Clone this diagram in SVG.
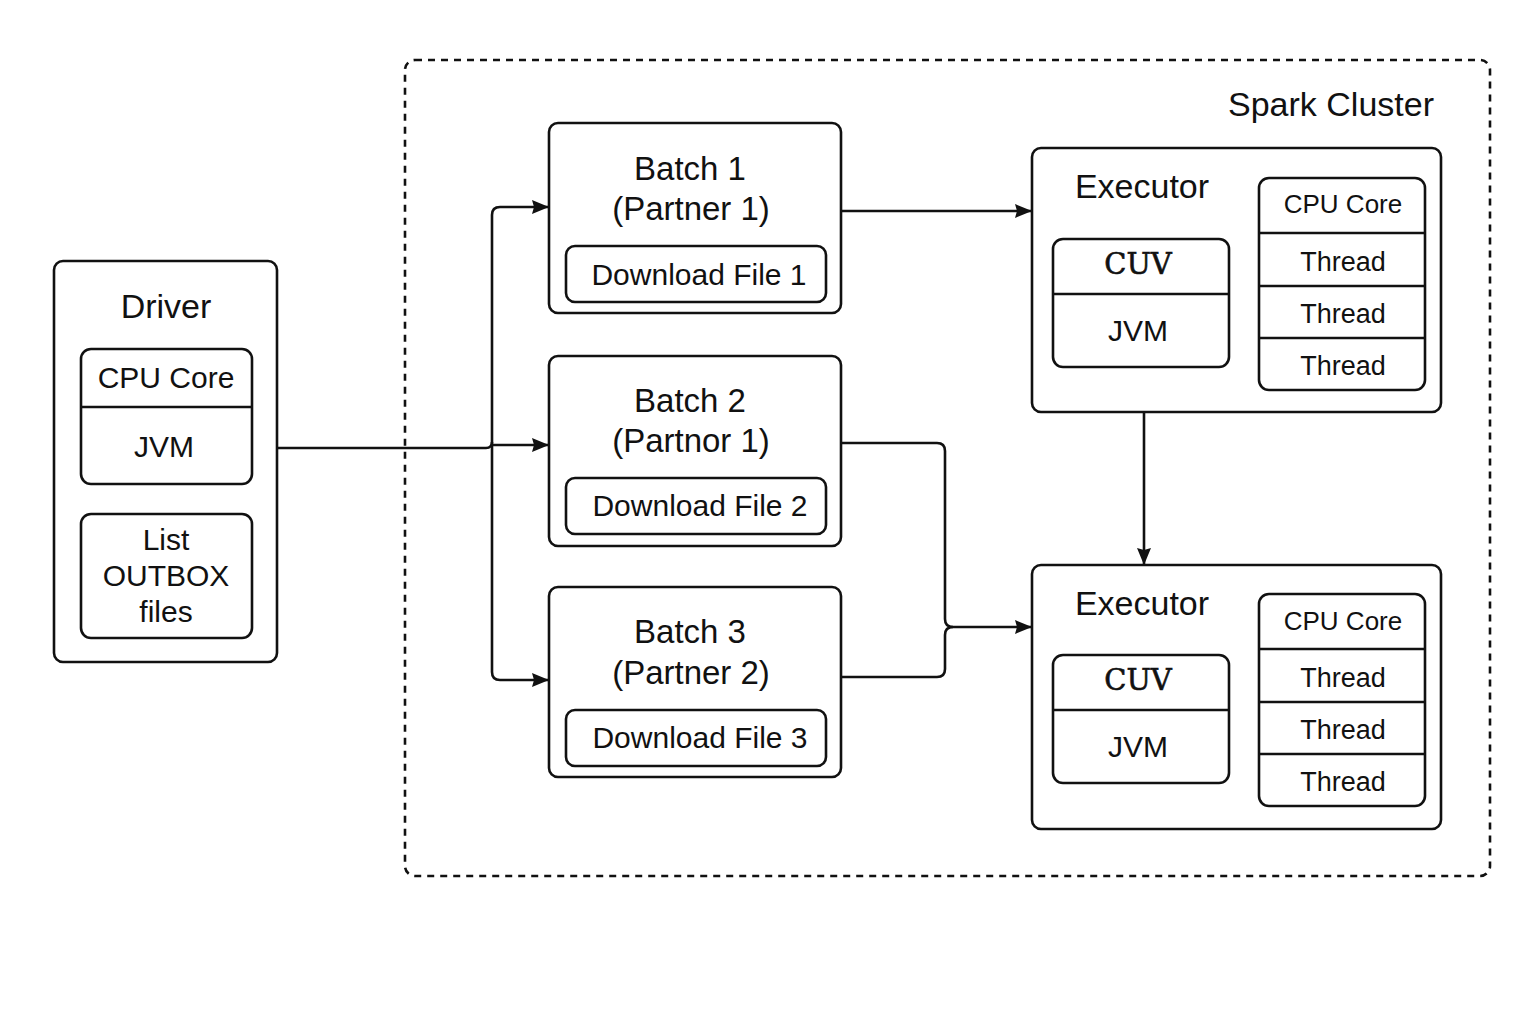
<svg xmlns="http://www.w3.org/2000/svg" width="1536" height="1024" viewBox="0 0 1536 1024">
<style>
.b{fill:#fff;stroke:#111;stroke-width:2.6}
.l{fill:none;stroke:#111;stroke-width:2.6}
.c{fill:none;stroke:#111;stroke-width:2.6;stroke-linejoin:round}
text{font-family:"Liberation Sans",Arial,sans-serif;fill:#111;text-anchor:middle}
.t34{font-size:34px}.t33{font-size:33px}.t30{font-size:30px}.t27{font-size:27px}.t26{font-size:26px}
.cuv{font-family:"DejaVu Serif",serif;font-size:29px;stroke:#111;stroke-width:0.6}
</style>
<defs>
<marker id="a" viewBox="0 0 17 14" refX="16" refY="7" markerWidth="17" markerHeight="14" markerUnits="userSpaceOnUse" orient="auto">
<path d="M0,0 L17,7 L0,14 L2,7 z" fill="#111"/>
</marker>
</defs>
<rect width="1536" height="1024" fill="#fff"/>
<g id="cluster">
<rect x="405" y="60" width="1085" height="816" rx="10" fill="none" stroke="#111" stroke-width="2.6" stroke-dasharray="7,6"/>
<text x="1434" y="116" class="t34" style="text-anchor:end">Spark Cluster</text>
</g>
<g id="connectors">
<path class="c" d="M277,448 H486 Q492,448 492,442"/>
<path class="c" d="M492,672 V215 Q492,207 500,207 H548" marker-end="url(#a)"/>
<path class="c" d="M492,672 Q492,680 500,680 H548" marker-end="url(#a)"/>
<path class="c" d="M492,445 H548" marker-end="url(#a)"/>
<path class="c" d="M841,211 H1031" marker-end="url(#a)"/>
<path class="c" d="M841,443 H937 Q945,443 945,451 V619 Q945,627 953,627 H1031" marker-end="url(#a)"/>
<path class="c" d="M841,677 H937 Q945,677 945,669 V635 Q945,627 953,627"/>
<path class="c" d="M1144,412 V564" marker-end="url(#a)"/>
</g>
<g id="driver">
<rect class="b" x="54" y="261" width="223" height="401" rx="9"/>
<text x="166" y="318" class="t34">Driver</text>
<rect class="b" x="81" y="349" width="171" height="135" rx="10"/>
<line class="l" x1="81" y1="407" x2="252" y2="407"/>
<text x="166" y="388" class="t30">CPU Core</text>
<text x="164" y="457" class="t30">JVM</text>
<rect class="b" x="81" y="514" width="171" height="124" rx="10"/>
<text x="166" y="550" class="t30">List</text>
<text x="166" y="586" class="t30">OUTBOX</text>
<text x="166" y="622" class="t30">files</text>
</g>
<g id="batch1">
<rect class="b" x="549" y="123" width="292" height="190" rx="9"/>
<text x="690" y="180" class="t33">Batch 1</text>
<text x="691" y="220" class="t33">(Partner 1)</text>
<rect class="b" x="566" y="246" width="260" height="56" rx="9"/>
<text x="699" y="285" class="t30">Download File 1</text>
</g>
<g id="batch2">
<rect class="b" x="549" y="356" width="292" height="190" rx="9"/>
<text x="690" y="412" class="t33">Batch 2</text>
<text x="691" y="452" class="t33">(Partnor 1)</text>
<rect class="b" x="566" y="478" width="260" height="56" rx="9"/>
<text x="700" y="516" class="t30">Download File 2</text>
</g>
<g id="batch3">
<rect class="b" x="549" y="587" width="292" height="190" rx="9"/>
<text x="690" y="643" class="t33">Batch 3</text>
<text x="691" y="684" class="t33">(Partner 2)</text>
<rect class="b" x="566" y="710" width="260" height="56" rx="9"/>
<text x="700" y="748" class="t30">Download File 3</text>
</g>
<g id="executor1">
<rect class="b" x="1032" y="148" width="409" height="264" rx="9"/>
<text x="1142" y="198" class="t34">Executor</text>
<rect class="b" x="1053" y="239" width="176" height="128" rx="10"/>
<line class="l" x1="1053" y1="294" x2="1229" y2="294"/>
<text x="1138" y="274" class="cuv">CUV</text>
<text x="1138" y="341" class="t30">JVM</text>
<rect class="b" x="1259" y="178" width="166" height="212" rx="10"/>
<line class="l" x1="1259" y1="233" x2="1425" y2="233"/>
<line class="l" x1="1259" y1="286" x2="1425" y2="286"/>
<line class="l" x1="1259" y1="338" x2="1425" y2="338"/>
<text x="1343" y="213" class="t26">CPU Core</text>
<text x="1343" y="271" class="t27">Thread</text>
<text x="1343" y="323" class="t27">Thread</text>
<text x="1343" y="375" class="t27">Thread</text>
</g>
<g id="executor2">
<rect class="b" x="1032" y="565" width="409" height="264" rx="9"/>
<text x="1142" y="615" class="t34">Executor</text>
<rect class="b" x="1053" y="655" width="176" height="128" rx="10"/>
<line class="l" x1="1053" y1="710" x2="1229" y2="710"/>
<text x="1138" y="690" class="cuv">CUV</text>
<text x="1138" y="757" class="t30">JVM</text>
<rect class="b" x="1259" y="594" width="166" height="212" rx="10"/>
<line class="l" x1="1259" y1="649" x2="1425" y2="649"/>
<line class="l" x1="1259" y1="702" x2="1425" y2="702"/>
<line class="l" x1="1259" y1="754" x2="1425" y2="754"/>
<text x="1343" y="630" class="t26">CPU Core</text>
<text x="1343" y="687" class="t27">Thread</text>
<text x="1343" y="739" class="t27">Thread</text>
<text x="1343" y="791" class="t27">Thread</text>
</g>
</svg>
